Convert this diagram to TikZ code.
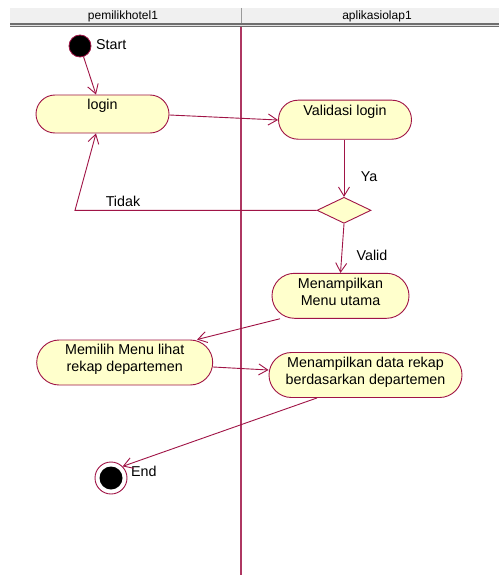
\documentclass[tikz,border=0pt]{standalone}
\usepackage{fontspec}
\setmainfont{Liberation Sans}
\usetikzlibrary{shapes.misc,shapes.geometric,arrows.meta}

\definecolor{umlline}{RGB}{160,20,70}
\definecolor{umlfill}{RGB}{255,255,204}
\definecolor{headfill}{RGB}{240,240,240}
\definecolor{headline}{RGB}{110,110,110}

% text block raised inside its node, box size unchanged
\newcommand{\actlbl}[2]{\raisebox{#1}[\height][\depth]{\begin{tabular}{@{}c@{}}#2\end{tabular}}}

\tikzset{
  act/.style={rounded rectangle, draw=umlline, fill=umlfill, line width=0.9pt,
    inner sep=0pt, font=\fontsize{14.3}{17}\selectfont},
  decision/.style={diamond, draw=umlline, fill=umlfill, line width=0.9pt,
    inner sep=0pt, minimum width=54pt, minimum height=26pt},
  flow/.style={draw=umlline, line width=0.9pt,
    -{Straight Barb[length=9pt,width=11pt,line width=0.9pt]}},
  flowlbl/.style={font=\fontsize{14.3}{17}\selectfont, inner sep=0pt},
  headlbl/.style={font=\fontsize{12}{14}\selectfont, inner sep=0pt}
}

\begin{document}
\begin{tikzpicture}[x=1pt,y=-1pt]
\useasboundingbox (0,0) rectangle (499,575);
\fill[white] (0,0) rectangle (499,575);

% swimlane header
\fill[headfill] (10,8) rectangle (499,23.5);
\fill[headline] (10,23.5) rectangle (499,27);
\draw[white!80!headline, line width=0.8pt] (10,25.3) -- (499,25.3);
\draw[headline!70, line width=1pt] (241,8) -- (241,23.5);
\node[headlbl] (laneA) at (123,16) {pemilikhotel1};
\node[headlbl] (laneB) at (377,16) {aplikasiolap1};

% swimlane separator
\draw[umlline!85, line width=1.1pt] (241,27) -- (241,575);

% start and end
\node[circle, fill=black, draw=umlline, line width=0.8pt, minimum size=22pt, inner sep=0pt] (start) at (80,46) {};
\node[flowlbl, anchor=west] (startlbl) at (96,45) {Start};
\node[circle, fill=white, draw=umlline, line width=0.9pt, minimum size=32pt, inner sep=0pt] (end) at (111,478) {};
\node[circle, fill=black, minimum size=23pt, inner sep=0pt] (endcore) at (111,478) {};
\node[flowlbl, anchor=west] (endlbl) at (131,471) {End};

% activities
\node[act, minimum width=133pt, minimum height=38pt] (login) at (102.5,114) {\actlbl{8pt}{login}};
\node[act, minimum width=133pt, minimum height=39pt] (valid) at (345,119.7) {\actlbl{8pt}{Validasi login}};
\node[decision] (dec) at (344,210.3) {};
\node[act, minimum width=137pt, minimum height=45pt] (menu) at (340.5,295.8) {\actlbl{2.5pt}{Menampilkan\\Menu utama}};
\node[act, minimum width=176pt, minimum height=45pt] (pilih) at (124.7,362.5) {\actlbl{2.5pt}{Memilih Menu lihat\\rekap departemen}};
\node[act, minimum width=193pt, minimum height=45pt] (rekap) at (365.5,375) {\actlbl{2.5pt}{Menampilkan data rekap\\berdasarkan departemen}};

% control flows
\coordinate (bend) at (75,210.3);
\draw[flow] (start) -- (login.north west -| 96,0);
\draw[flow] (login.east |- 0,115) -- (valid.west |- 0,120);
\draw[flow] (valid.south -| dec.north) -- (dec.north);
\draw[flow] (dec.west) -- (bend) -- (login.south west -| 96,0);
\draw[flow] (dec.south) -- (menu.north);
\draw[flow] (menu.south west -| 280,0) -- (pilih.north east -| 197,0);
\draw[flow] (pilih.east |- 0,367) -- (rekap.west |- 0,370);
\draw[flow] (rekap.south west -| 317,0) -- (end.north east);

% guard labels
\node[flowlbl] (ya) at (369,177) {Ya};
\node[flowlbl] (validlbl) at (372,255) {Valid};
\node[flowlbl] (tidak) at (123,201) {Tidak};
\end{tikzpicture}
\end{document}
